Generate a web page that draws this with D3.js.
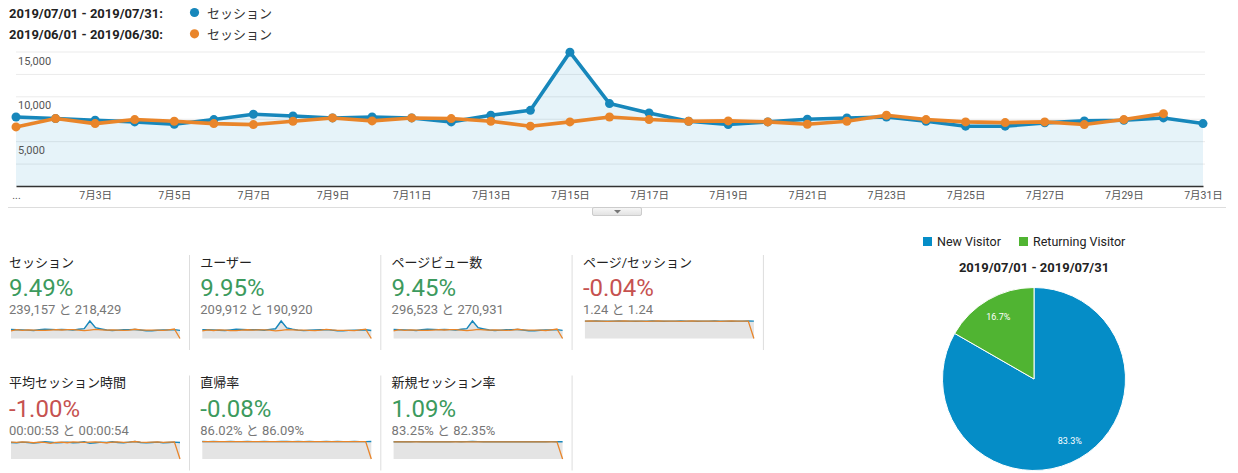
<!DOCTYPE html>
<html><head><meta charset="utf-8">
<script src="https://cdn.jsdelivr.net/npm/d3@7"></script>
<style>
html,body{margin:0;padding:0;background:#fff;}
svg{display:block;font-family:Roboto,"Noto Sans CJK JP",sans-serif;}
</style></head>
<body><svg id="c" width="1238" height="473"></svg>
<script>
// ---------- data ----------
const days = [1,2,3,4,5,6,7,8,9,10,11,12,13,14,15,16,17,18,19,20,21,22,23,24,25,26,27,28,29,30,31];
const xTickDays = [1,3,5,7,9,11,13,15,17,19,21,23,25,27,29,31];
const xTickLabels = ["...","7月3日","7月5日","7月7日","7月9日","7月11日","7月13日","7月15日","7月17日","7月19日","7月21日","7月23日","7月25日","7月27日","7月29日","7月31日"];
const yGridValues = [2500,5000,7500,10000,12500,15000];
const yLabelValues = [5000,10000,15000];
const seriesNames = ["2019/07/01 - 2019/07/31:","2019/06/01 - 2019/06/30:"];
const metricLabel = "セッション";
const sessionsJuly = [7700,7520,7330,7150,6890,7410,8000,7810,7590,7700,7590,7150,7890,8440,14930,9190,8150,7220,6850,7150,7440,7590,7700,7220,6670,6670,7040,7260,7330,7590,6960];
const sessionsJune = [6590,7520,6960,7410,7220,6960,6850,7220,7590,7260,7590,7520,7220,6670,7150,7700,7410,7220,7260,7150,6890,7220,7890,7410,7150,7070,7150,6850,7410,8070];

const usersJuly = [6760,6600,6430,6280,6050,6500,7020,6850,6660,6760,6660,6280,6920,7410,13300,8070,7150,6340,6010,6280,6530,6660,6760,6340,5850,5850,6180,6370,6430,6660,6110];
const usersJune = [5760,6570,6080,6480,6310,6080,5990,6310,6630,6350,6630,6570,6310,5830,6250,6730,6480,6310,6350,6250,6020,6310,6900,6480,6250,6180,6250,5990,6480,7050,0];
const pvJuly = [9550,9320,9090,8870,8540,9190,9920,9680,9410,9550,9410,8870,9780,10470,18510,11400,10110,8950,8490,8870,9230,9410,9550,8950,8270,8270,8730,9000,9090,9410,8630];
const pvJune = [8170,9320,8630,9190,8950,8630,8490,8950,9410,9000,9410,9320,8950,8270,8870,9550,9190,8950,9000,8870,8540,8950,9780,9190,8870,8770,8870,8490,9190,10010,0];
const ppsJuly = [1.24,1.24,1.25,1.24,1.23,1.24,1.25,1.24,1.24,1.23,1.24,1.24,1.25,1.24,1.23,1.24,1.24,1.25,1.24,1.24,1.23,1.24,1.24,1.25,1.24,1.24,1.23,1.24,1.24,1.25,1.24];
const ppsJune = [1.24,1.25,1.24,1.24,1.23,1.24,1.24,1.25,1.24,1.24,1.24,1.23,1.24,1.25,1.24,1.24,1.24,1.23,1.24,1.25,1.24,1.24,1.24,1.24,1.23,1.24,1.25,1.24,1.24,1.24,0];
const durJuly = [53,52,54,53,51,53,55,54,52,53,54,52,53,55,50,52,54,53,55,53,52,54,56,53,52,53,54,52,53,54,53];
const durJune = [54,53,55,54,52,54,53,50,53,54,52,55,54,53,54,55,53,52,54,55,53,54,56,54,53,54,55,53,54,55,0];
const bounceJuly = [86.1,86.0,86.2,85.9,86.0,86.1,85.8,86.0,86.1,86.0,85.9,86.2,86.0,85.7,86.4,86.1,86.0,86.1,86.0,86.2,85.9,86.0,86.1,86.0,86.2,86.0,85.9,86.1,86.0,86.0,86.1];
const bounceJune = [86.0,86.1,86.2,86.0,86.1,85.9,86.1,86.0,86.2,86.1,86.0,86.1,85.9,86.2,86.0,86.1,86.1,86.0,86.2,86.0,86.1,86.1,85.9,86.1,86.0,86.2,86.1,86.0,86.1,86.1,0];
const newJuly = [83.1,83.3,83.0,83.2,83.4,83.1,83.2,83.3,83.0,83.2,83.1,83.4,83.3,83.5,84.2,83.4,83.2,83.1,83.3,83.0,83.2,83.3,83.1,83.2,83.0,83.3,83.2,83.1,83.4,83.2,83.3];
const newJune = [82.3,82.4,82.2,82.5,82.3,82.4,82.2,82.3,82.5,82.4,82.3,82.2,82.4,82.3,82.5,82.4,82.3,82.2,82.4,82.3,82.5,82.3,82.4,82.2,82.3,82.4,82.3,82.5,82.4,82.3,0];

const metricNames = ["セッション","ユーザー","ページビュー数","ページ/セッション","平均セッション時間","直帰率","新規セッション率"];
const metricChanges = ["9.49%","9.95%","9.45%","-0.04%","-1.00%","-0.08%","1.09%"];
const metricGood = [true,true,true,false,false,true,true];
const metricCompare = ["239,157 と 218,429","209,912 と 190,920","296,523 と 270,931","1.24 と 1.24","00:00:53 と 00:00:54","86.02% と 86.09%","83.25% と 82.35%"];
const metricCurrent = [sessionsJuly, usersJuly, pvJuly, ppsJuly, durJuly, bounceJuly, newJuly];
const metricPrevious = [sessionsJune.concat([0]), usersJune, pvJune, ppsJune, durJune, bounceJune, newJune];

const pieLabels = ["New Visitor","Returning Visitor"];
const pieValues = [83.3,16.7];
const pieTitle = "2019/07/01 - 2019/07/31";

// ---------- styles ----------
const BLUE = "#1787bb", ORANGE = "#e9852a", PIEBLUE = "#058dc7", PIEGREEN = "#50b432";
const GREEN = "#3c9a5d", RED = "#c65250";

const svg = d3.select("#c");

// ---------- legend ----------
const leg = svg.append("g");
[BLUE, ORANGE].forEach((c, i) => {
  const yy = i === 0 ? 18 : 39.3;
  leg.append("text").attr("x", 9).attr("y", yy).attr("font-size", 13).attr("font-weight", "bold").attr("fill", "#222").text(seriesNames[i]);
  leg.append("circle").attr("cx", 194.5).attr("cy", yy - 5.5).attr("r", 4.6).attr("fill", c);
  leg.append("text").attr("x", 207).attr("y", yy).attr("font-size", 13).attr("fill", "#333").text(metricLabel);
});

// ---------- main chart ----------
const x = d3.scalePoint().domain(days).range([16, 1203]);
const y = d3.scaleLinear().domain([0, 15000]).range([186, 51.5]);

const grid = svg.append("g").attr("transform", "translate(16,0)")
  .call(d3.axisRight(y).tickValues(yGridValues).tickSize(1189).tickFormat(""));
grid.select(".domain").remove();
grid.selectAll("line").attr("stroke", "#ebebeb");

svg.append("path").datum(sessionsJuly)
  .attr("fill", "rgba(5,141,199,0.1)")
  .attr("d", d3.area().x((d, i) => x(days[i])).y0(y(0)).y1(d => y(d)));

const yl = svg.append("g").attr("transform", "translate(16,0)")
  .call(d3.axisRight(y).tickValues(yLabelValues).tickSize(0).tickPadding(2).tickFormat(d3.format(",")));
yl.select(".domain").remove();
yl.selectAll("text").attr("dy", null).attr("y", 12.5).attr("font-size", 11).attr("fill", "#555").attr("font-family", "Roboto, sans-serif");

const xa = svg.append("g").attr("transform", "translate(0,186)")
  .call(d3.axisBottom(x).tickValues(xTickDays).tickFormat((d, i) => xTickLabels[i]).tickSizeInner(0).tickSizeOuter(0).tickPadding(6));
xa.select(".domain").attr("stroke", "#333").attr("stroke-width", 1.5);
xa.selectAll("text").attr("font-size", 10.5).attr("fill", "#555").attr("font-family", "Roboto, 'Noto Sans CJK JP', sans-serif");

const lineGen = d3.line().x((d, i) => x(days[i])).y(d => y(d));
[[sessionsJuly, BLUE], [sessionsJune, ORANGE]].forEach(([data, col]) => {
  svg.append("path").datum(data).attr("fill", "none").attr("stroke", col).attr("stroke-width", 3.6).attr("stroke-linejoin", "round").attr("d", lineGen);
  svg.append("g").selectAll("circle").data(data).join("circle")
    .attr("cx", (d, i) => x(days[i])).attr("cy", d => y(d)).attr("r", 4.5).attr("fill", col);
});

// separator line and tab below chart
svg.append("line").attr("x1", 8).attr("x2", 1226).attr("y1", 207.5).attr("y2", 207.5).attr("stroke", "#ddd");
const grad = svg.append("defs").append("linearGradient").attr("id", "tabg").attr("x1", 0).attr("y1", 0).attr("x2", 0).attr("y2", 1);
grad.append("stop").attr("offset", "0%").attr("stop-color", "#f7f7f7");
grad.append("stop").attr("offset", "100%").attr("stop-color", "#e2e2e2");
svg.append("rect").attr("x", 592.5).attr("y", 207.5).attr("width", 49).attr("height", 8).attr("rx", 1.5).attr("fill", "url(#tabg)").attr("stroke", "#ccc");
svg.append("path").attr("d", "M614,210 L621,210 L617.5,213.5 Z").attr("fill", "#777");

// ---------- metric tiles ----------
metricNames.forEach((name, i) => {
  const row = i < 4 ? 0 : 1;
  const col = i < 4 ? i : i - 4;
  const cx = 9 + col * 191.3;
  const oy = row * 120.5;
  const g = svg.append("g");
  g.append("text").attr("x", cx).attr("y", 266.5 + oy).attr("font-size", 13).attr("fill", "#222").text(name);
  g.append("text").attr("x", cx).attr("y", 296 + oy).attr("font-size", 24).attr("fill", metricGood[i] ? GREEN : RED).text(metricChanges[i]);
  g.append("text").attr("x", cx).attr("y", 314 + oy).attr("font-size", 13).attr("fill", "#777").text(metricCompare[i]);
  g.append("line").attr("x1", cx + 180.5).attr("x2", cx + 180.5).attr("y1", 255 + oy).attr("y2", 350 + oy).attr("stroke", "#ddd");

  const cur = metricCurrent[i], prev = metricPrevious[i];
  const sx = d3.scalePoint().domain(days).range([cx + 2, cx + 171]);
  const sy = d3.scaleLinear().domain([0, d3.max(cur.concat(prev))]).range([338.5 + oy, 321 + oy]);
  g.append("path").datum(cur).attr("fill", "#e4e4e4")
    .attr("d", d3.area().x((d, k) => sx(days[k])).y0(338.5 + oy).y1(d => sy(d)));
  const sl = d3.line().x((d, k) => sx(days[k])).y(d => sy(d));
  g.append("path").datum(cur).attr("fill", "none").attr("stroke", BLUE).attr("stroke-width", 1.4).attr("d", sl);
  g.append("path").datum(prev).attr("fill", "none").attr("stroke", ORANGE).attr("stroke-width", 1.3).attr("d", sl);
});

// ---------- pie ----------
const pcx = 1034, pcy = 379, pr = 91.5;
const pieColors = [PIEBLUE, PIEGREEN];
const pl = svg.append("g");
const legX = [923, 1019];
pieLabels.forEach((lab, i) => {
  pl.append("rect").attr("x", legX[i]).attr("y", 237).attr("width", 9).attr("height", 9).attr("fill", pieColors[i]);
  pl.append("text").attr("x", legX[i] + 14).attr("y", 246).attr("font-size", 12.5).attr("fill", "#222").text(lab);
});
pl.append("text").attr("x", pcx).attr("y", 272).attr("text-anchor", "middle").attr("font-size", 13).attr("font-weight", "bold").attr("fill", "#222").text(pieTitle);

const arcs = d3.pie().sort(null)(pieValues);
const arc = d3.arc().innerRadius(0).outerRadius(pr);
const labArc = d3.arc().innerRadius(pr * 0.78).outerRadius(pr * 0.78);
const pg = svg.append("g").attr("transform", `translate(${pcx},${pcy})`);
pg.selectAll("path").data(arcs).join("path").attr("d", arc).attr("fill", (d, i) => pieColors[i]).attr("stroke", "#fff").attr("stroke-width", 1);
pg.selectAll("text").data(arcs).join("text")
  .attr("transform", d => `translate(${labArc.centroid(d)})`)
  .attr("text-anchor", "middle").attr("dy", "0.35em").attr("font-size", 9).attr("fill", "#fff")
  .text((d, i) => pieValues[i].toFixed(1) + "%");
</script></body></html>
